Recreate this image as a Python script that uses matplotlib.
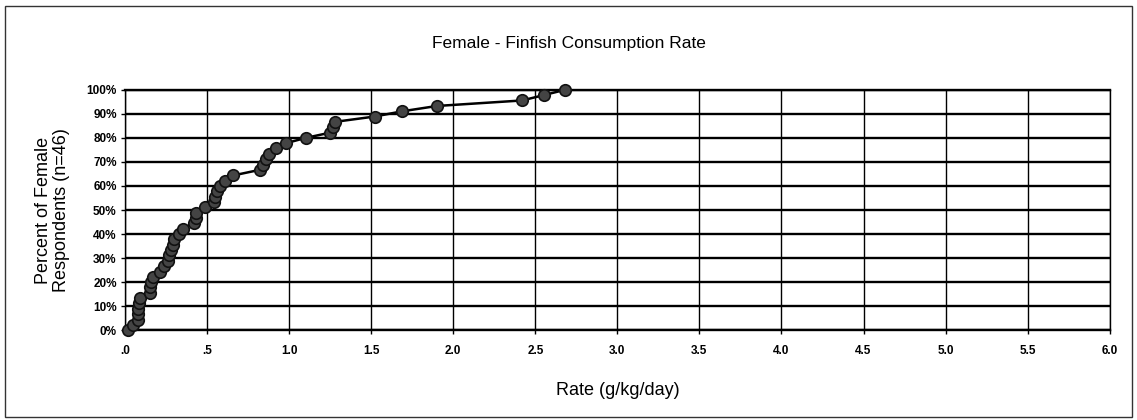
import numpy as np
import matplotlib
matplotlib.use('Agg')
import matplotlib.pyplot as plt
from matplotlib.patches import Rectangle
from matplotlib.ticker import FuncFormatter

plt.rcParams['font.family'] = ['Liberation Sans', 'DejaVu Sans']

# consumption rate (g/kg/day), sorted
rate = [0.02, 0.05, 0.08, 0.08, 0.08, 0.085, 0.09, 0.15, 0.15, 0.16,
        0.17, 0.21, 0.24, 0.26, 0.27, 0.28, 0.29, 0.30, 0.33, 0.35,
        0.42, 0.43, 0.43, 0.49, 0.54, 0.55, 0.56, 0.58, 0.61, 0.66,
        0.82, 0.84, 0.86, 0.88, 0.92, 0.98, 1.10, 1.25, 1.27, 1.28,
        1.52, 1.69, 1.90, 2.42, 2.55, 2.68]
# cumulative percent of respondents
pct = [0.0, 2.2, 4.4, 6.7, 8.9, 11.1, 13.3, 15.6, 17.8, 20.0,
       22.2, 24.4, 26.7, 28.9, 31.1, 33.3, 35.6, 37.8, 40.0, 42.2,
       44.4, 46.7, 48.9, 51.1, 53.3, 55.6, 57.8, 60.0, 62.2, 64.4,
       66.7, 68.9, 71.1, 73.3, 75.6, 77.8, 80.0, 82.2, 84.4, 86.7,
       88.9, 91.1, 93.3, 95.6, 97.8, 100.0]

xticks = np.arange(0, 6.01, 0.5)
yticks = np.arange(0, 101, 10)

fig = plt.figure(figsize=(11.37, 4.2), dpi=100)
ax = fig.add_axes([0.110, 0.214, 0.866, 0.572])

ax.plot(rate, pct, color='black', lw=1.8, zorder=3, clip_on=False)
ax.plot(rate, pct, 'o', ms=8.3, mfc='#444444', mec='#111111', mew=1.2, zorder=4, clip_on=False)

ax.set_xlim(0, 6)
ax.set_ylim(0, 100)
ax.set_xticks(xticks)
ax.set_yticks(yticks)
ax.xaxis.set_major_formatter(FuncFormatter(lambda v, p: '.0' if v == 0 else ('.5' if v == 0.5 else f'{v:.1f}')))
ax.yaxis.set_major_formatter(FuncFormatter(lambda v, p: f'{int(v)}%'))
ax.tick_params(length=3, width=1, colors='black', pad=3)
for lab in ax.get_xticklabels() + ax.get_yticklabels():
    lab.set_fontfamily(['Liberation Sans Narrow', 'Liberation Sans'])
    lab.set_fontsize(8.5)
    lab.set_fontweight('bold')
ax.tick_params(axis='x', pad=8)

ax.grid(axis='y', color='black', lw=1.7)
ax.grid(axis='x', color='black', lw=1.0)
ax.set_axisbelow(True)
for s in ax.spines.values():
    s.set_linewidth(1.0)
    s.set_color('black')
ax.spines['bottom'].set_linewidth(1.7)
ax.spines['top'].set_linewidth(1.7)

ax.set_xlabel('Rate (g/kg/day)', fontsize=13, labelpad=18)
ax.set_ylabel('Percent of Female\nRespondents (n=46)', fontsize=13, labelpad=12, linespacing=1.05)
fig.text(0.5, 0.897, 'Female - Finfish Consumption Rate', ha='center', va='center', fontsize=12.5)

fig.patches.append(Rectangle((0.004, 0.006), 0.992, 0.98, transform=fig.transFigure,
                             fill=False, ec='#333333', lw=1.0))

plt.savefig('out.png', dpi=100)
